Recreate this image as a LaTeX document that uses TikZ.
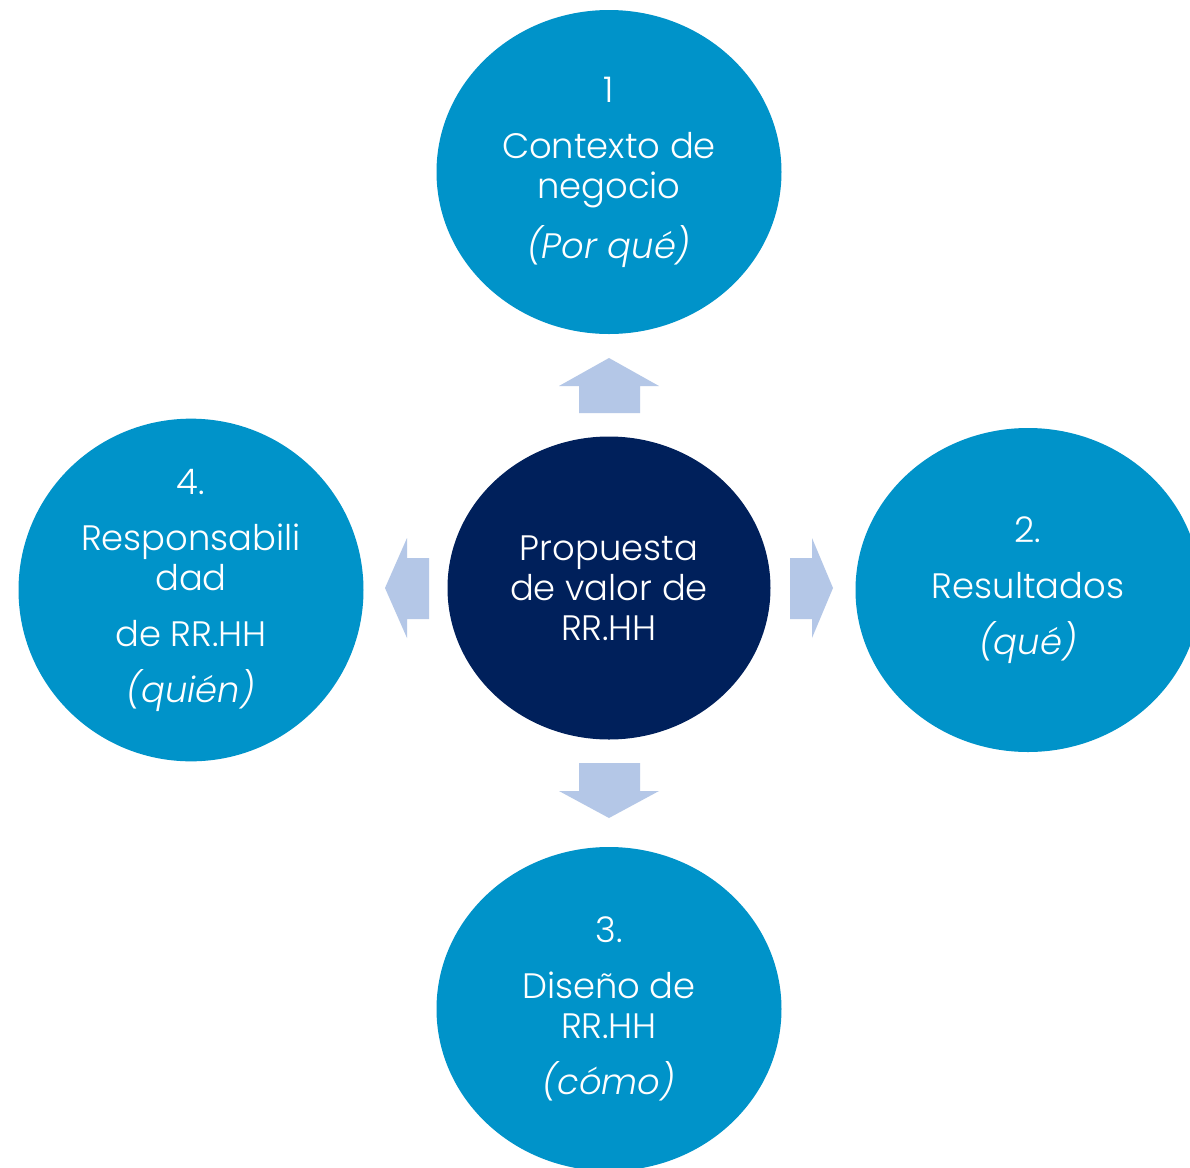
\documentclass[tikz,border=0pt]{standalone}
\usepackage{fontspec}
\IfFontExistsTF{Poppins Light}{%
  \IfFontExistsTF{Poppins Light Italic}
    {\setmainfont{Poppins Light}[ItalicFont={Poppins Light Italic}]}
    {\setmainfont{Poppins Light}}}
  {\setmainfont{Poppins}}
\usetikzlibrary{shapes.geometric}
\definecolor{petalblue}{RGB}{0,147,201}
\definecolor{corenavy}{RGB}{0,32,91}
\definecolor{flowblue}{RGB}{180,199,231}
\begin{document}
\begin{tikzpicture}[x=0.75pt,y=-0.75pt,
  petal/.style={ellipse, fill=petalblue, text=white, inner sep=0pt,
    minimum width=258.75pt, minimum height=243pt, align=center,
    font=\fontsize{26.5}{30}\selectfont},
  core/.style={ellipse, fill=corenavy, text=white, inner sep=0pt,
    minimum width=242.25pt, minimum height=227.25pt, align=center,
    font=\fontsize{26.5}{30}\selectfont},
  flow/.style={fill=flowblue, draw=none}]
\clip (0,0) rectangle (1190,1168);
\fill[white] (0,0) rectangle (1190,1168);

% central proposition and the four surrounding topics
\node[core]  (hub)    at (609,588)  {Propuesta\\de valor de\\RR.HH};
\node[petal] (why)    at (609,172)  {1\\[12pt]Contexto de\\negocio\\[12pt]\textit{(Por qué)}};
\node[petal] (what)   at (1028,590) {2.\\[12pt]Resultados\\[12pt]\textit{(qué)}};
\node[petal] (how)    at (609,1009) {3.\\[12pt]Diseño de\\RR.HH\\[12pt]\textit{(cómo)}};
\node[petal] (who)    at (191,590)  {4.\\[12pt]Responsabili\\dad\\[12pt]de RR.HH\\[12pt]\textit{(quién)}};

% block arrows pointing outward from the hub
\fill[flow] (579,413) -- (579,386) -- (559,386) -- (609,358) -- (659,386) -- (640,386) -- (640,413) -- cycle;
\fill[flow] (579,763) -- (579,791) -- (559,791) -- (609,818) -- (659,791) -- (640,791) -- (640,763) -- cycle;
\fill[flow] (429,558) -- (407,558) -- (407,538) -- (385,588) -- (407,638) -- (407,619) -- (429,619) -- cycle;
\fill[flow] (790,558) -- (812,558) -- (812,538) -- (833,588) -- (812,638) -- (812,619) -- (790,619) -- cycle;
\end{tikzpicture}
\end{document}
